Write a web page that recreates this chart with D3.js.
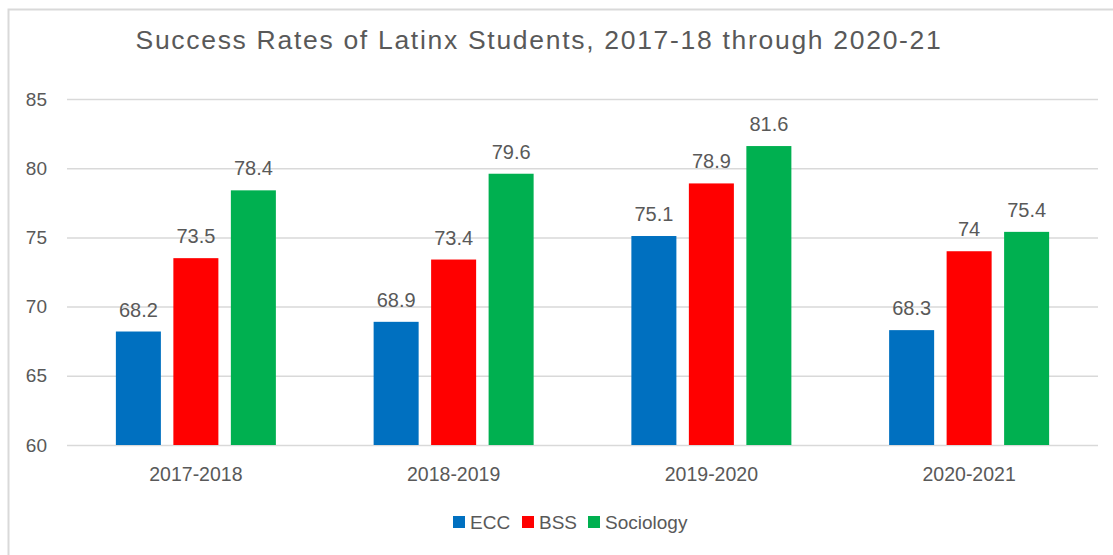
<!DOCTYPE html>
<html>
<head>
<meta charset="utf-8">
<script src="https://cdn.jsdelivr.net/npm/d3@7"></script>
<style>
  html, body { margin: 0; padding: 0; background: #fff; }
  svg { display: block; }
  text { font-family: "Liberation Sans", Arial, sans-serif; fill: #595959; }
</style>
</head>
<body>
<svg id="chart" width="1113" height="555"></svg>
<script>
// Academic years on the category axis
const years = ["2017-2018", "2018-2019", "2019-2020", "2020-2021"];
// Series shown in the legend
const seriesNames = ["ECC", "BSS", "Sociology"];
const seriesColors = ["#0070C0", "#FF0000", "#00B050"];
// Success rates (%) per series, one value per year
const ecc = [68.2, 68.9, 75.1, 68.3];
const bss = [73.5, 73.4, 78.9, 74];
const sociology = [78.4, 79.6, 81.6, 75.4];
// Value axis ticks
const yTicks = [60, 65, 70, 75, 80, 85];

const seriesValues = [ecc, bss, sociology];

const svg = d3.select("#chart");

// Outer chart frame (runs off the right and bottom edges)
svg.append("rect")
  .attr("x", 8.5).attr("y", 9.5)
  .attr("width", 1130).attr("height", 560)
  .attr("fill", "none")
  .attr("stroke", "#D9D9D9")
  .attr("stroke-width", 2);

const plot = { left: 67, right: 1098, top: 99, bottom: 445 };

const x0 = d3.scaleBand()
  .domain(years)
  .range([plot.left, plot.right])
  .paddingInner(0).paddingOuter(0);

const groupWidth = 160;
const x1 = d3.scaleBand()
  .domain(seriesNames)
  .range([0, groupWidth])
  .paddingInner(0.217).paddingOuter(0);

const y = d3.scaleLinear()
  .domain([60, 85])
  .range([plot.bottom, plot.top]);

// Horizontal gridlines and value labels
const yAxis = d3.axisLeft(y)
  .tickValues(yTicks)
  .tickSize(-(plot.right - plot.left))
  .tickPadding(20)
  .tickFormat(d3.format("d"));

const gy = svg.append("g")
  .attr("transform", `translate(${plot.left},0)`)
  .call(yAxis);
gy.select(".domain").remove();
gy.selectAll(".tick line").attr("stroke", "#D9D9D9").attr("stroke-width", 1.5);
gy.selectAll(".tick text")
  .attr("font-size", 19)
  .attr("fill", "#595959")
  .style("font-family", "'Liberation Sans', Arial, sans-serif");

// Bars
const groupOffset = (x0.bandwidth() - groupWidth) / 2;
const rows = [];
years.forEach((yr, i) => {
  seriesNames.forEach((s, j) => {
    rows.push({ year: yr, series: s, value: seriesValues[j][i], color: seriesColors[j] });
  });
});

const bars = svg.append("g");
bars.selectAll("rect")
  .data(rows)
  .join("rect")
  .attr("x", d => x0(d.year) + groupOffset + x1(d.series))
  .attr("y", d => y(d.value))
  .attr("width", x1.bandwidth())
  .attr("height", d => y(60) - y(d.value))
  .attr("fill", d => d.color);

// Value labels above each bar
bars.selectAll("text")
  .data(rows)
  .join("text")
  .attr("x", d => x0(d.year) + groupOffset + x1(d.series) + x1.bandwidth() / 2)
  .attr("y", d => y(d.value) - 15)
  .attr("text-anchor", "middle")
  .attr("font-size", 20)
  .text(d => String(d.value));

// Category axis labels
const xAxis = d3.axisBottom(x0).tickSize(0).tickPadding(22);
const gx = svg.append("g")
  .attr("transform", `translate(0,${plot.bottom})`)
  .call(xAxis);
gx.select(".domain").remove();
gx.selectAll(".tick text")
  .attr("font-size", 19.5)
  .attr("fill", "#595959")
  .style("font-family", "'Liberation Sans', Arial, sans-serif");

// Title
svg.append("text")
  .attr("x", 539)
  .attr("y", 49)
  .attr("text-anchor", "middle")
  .attr("font-size", 26.5)
  .attr("letter-spacing", 1.7)
  .text("Success Rates of Latinx Students, 2017-18 through 2020-21");

// Legend
const legendItems = [
  { name: "ECC", color: seriesColors[0], x: 453 },
  { name: "BSS", color: seriesColors[1], x: 522 },
  { name: "Sociology", color: seriesColors[2], x: 588 }
];
const lg = svg.append("g");
const li = lg.selectAll("g").data(legendItems).join("g")
  .attr("transform", d => `translate(${d.x},516)`);
li.append("rect")
  .attr("width", 12).attr("height", 12)
  .attr("fill", d => d.color);
li.append("text")
  .attr("x", 17).attr("y", 12.5)
  .attr("font-size", 19)
  .text(d => d.name);
</script>
</body>
</html>
